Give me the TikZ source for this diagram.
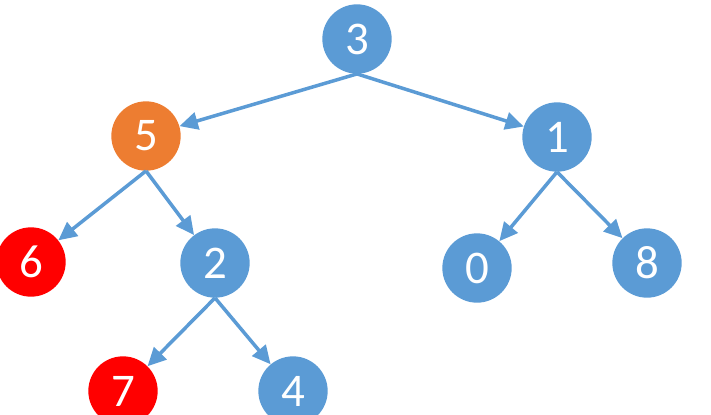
\documentclass[tikz,border=0pt]{standalone}
\usepackage{fontspec}
\setmainfont{Carlito}
\usetikzlibrary{arrows.meta}
\definecolor{tblue}{RGB}{91,155,213}
\definecolor{torange}{RGB}{237,125,49}
\definecolor{tred}{RGB}{255,0,0}
\tikzset{
tnode/.style={circle,fill=tblue,minimum size=2.08cm,inner sep=0pt,text=white,font=\fontsize{40}{40}\selectfont},
hot/.style={tnode,fill=torange},
leafred/.style={tnode,fill=tred},
link/.style={-{Triangle[length=5.5mm,width=5.2mm]},draw=tblue,line width=3pt}
}
\begin{document}
\begin{tikzpicture}[x=0.03cm,y=-0.03cm]
\useasboundingbox (0,0) rectangle (711,414);
\node[tnode](n3) at (357,39){3};
\node[hot](n5) at (146,136){5};
\node[tnode](n1) at (557,137){1};
\node[leafred](n6) at (31,262){6};
\node[tnode](n2) at (215,263){2};
\node[tnode](n0) at (477,268){0};
\node[tnode](n8) at (647,263){8};
\node[leafred](n7) at (123,391){7};
\node[tnode](n4) at (293,391){4};
\draw[link](n3.south)--(n5);\draw[link](n3.south)--(n1);
\draw[link](n5.south)--(n6);\draw[link](n5.south)--(n2);
\draw[link](n1.south)--(n0);\draw[link](n1.south)--(n8);
\draw[link](n2.south)--(n7);\draw[link](n2.south)--(n4);
\end{tikzpicture}
\end{document}
